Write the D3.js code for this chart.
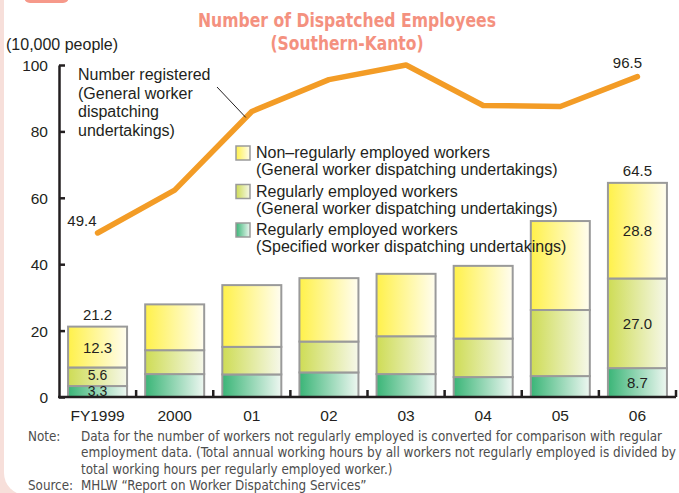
<!DOCTYPE html>
<html>
<head>
<meta charset="utf-8">
<script src="https://cdn.jsdelivr.net/npm/d3@7/dist/d3.min.js"></script>
<style>
  html, body { margin: 0; padding: 0; background: #fff; }
  svg { display: block; }
  .lbl { font-family: "Liberation Sans", Arial, sans-serif; font-size: 15px; fill: #231f20; }
  .txt { font-family: "Liberation Sans", Arial, sans-serif; font-size: 16px; fill: #231f20; }
  .note { font-family: "DejaVu Sans Condensed", "Liberation Sans Narrow", sans-serif; font-stretch: condensed; font-size: 13.3px; fill: #4d4d4d; }
</style>
</head>
<body>
<svg id="chart" width="679" height="493"></svg>
<script>
// ---- data ----
const categories = ["FY1999", "2000", "01", "02", "03", "04", "05", "06"];
const specifiedRegular = [3.3, 6.9, 6.8, 7.4, 6.9, 6.0, 6.3, 8.7];
const generalRegular   = [5.6, 7.2, 8.3, 9.3, 11.4, 11.6, 19.9, 27.0];
const generalNonRegular= [12.3, 13.8, 18.6, 19.1, 18.8, 21.9, 26.8, 28.8];
const registered       = [49.4, 62.3, 86.0, 95.6, 100.0, 87.8, 87.5, 96.5];
const yTicks = [0, 20, 40, 60, 80, 100];
const seriesKeys = ["specified", "regular", "nonregular"];
const legendLabels = [
  ["Non\u2013regularly employed workers", "(General worker dispatching undertakings)"],
  ["Regularly employed workers", "(General worker dispatching undertakings)"],
  ["Regularly employed workers", "(Specified worker dispatching undertakings)"]
];
const barLabelIdx = [0, 7];

// ---- setup ----
const svg = d3.select("#chart");
const W = 679, H = 493;

// background frame
svg.append("rect").attr("width", W).attr("height", H).attr("fill", "#f7dfda");
svg.append("rect").attr("x", 4).attr("y", -30).attr("width", 720).attr("height", 525)
  .attr("rx", 22).attr("fill", "#ffffff");
svg.append("rect").attr("x", 24).attr("y", -12).attr("width", 45).attr("height", 15)
  .attr("rx", 6).attr("fill", "#f6998a");

const defs = svg.append("defs");
const grads = {
  nonregular: ["#fff14a", "#fffdf0"],
  regular: ["#cedc55", "#f6f8ea"],
  specified: ["#3ab577", "#eef7f1"]
};
Object.entries(grads).forEach(([k, [c0, c1]]) => {
  const g = defs.append("linearGradient").attr("id", "g-" + k)
    .attr("x1", "0").attr("x2", "1").attr("y1", "0").attr("y2", "0");
  g.append("stop").attr("offset", "0%").attr("stop-color", c0);
  g.append("stop").attr("offset", "100%").attr("stop-color", c1);
});

const x = d3.scaleBand().domain(categories).range([59, 676]).paddingInner(0.235).paddingOuter(0.1175);
const y = d3.scaleLinear().domain([0, 100]).range([397, 65]);

// title
const titleFont = "'DejaVu Sans Condensed','Liberation Sans Narrow',sans-serif";
svg.append("text").attr("x", 347).attr("y", 27).attr("text-anchor", "middle")
  .attr("textLength", 298).attr("lengthAdjust", "spacingAndGlyphs")
  .style("font-family", titleFont).style("font-weight", "bold").style("font-size", "19px").style("fill", "#f4917f")
  .text("Number of Dispatched Employees");
svg.append("text").attr("x", 347).attr("y", 50).attr("text-anchor", "middle")
  .attr("textLength", 153).attr("lengthAdjust", "spacingAndGlyphs")
  .style("font-family", titleFont).style("font-weight", "bold").style("font-size", "19px").style("fill", "#f4917f")
  .text("(Southern-Kanto)");

// unit label
svg.append("text").attr("class", "txt").attr("x", 6).attr("y", 50).text("(10,000 people)");

// stacked bars
const rows = categories.map((c, i) => ({
  cat: c, specified: specifiedRegular[i], regular: generalRegular[i], nonregular: generalNonRegular[i]
}));
const stacked = d3.stack().keys(seriesKeys)(rows);
const barG = svg.append("g");
stacked.forEach(s => {
  barG.selectAll(null).data(s).enter().append("rect")
    .attr("x", d => x(d.data.cat))
    .attr("y", d => y(d[1]))
    .attr("width", x.bandwidth())
    .attr("height", d => y(d[0]) - y(d[1]))
    .attr("fill", "url(#g-" + s.key + ")")
    .attr("stroke", "#9a9a9a").attr("stroke-width", 2);
});

// bar value labels
const labG = svg.append("g");
barLabelIdx.forEach(i => {
  const cx = x(categories[i]) + x.bandwidth() / 2;
  stacked.forEach(s => {
    const d = s[i];
    const h = y(d[0]) - y(d[1]);
    let by = (y(d[0]) + y(d[1])) / 2 + 5.5;
    let fs = 15;
    if (h < 15) {            // very thin segment: sit on its base
      fs = 14; by = y(d[0]) - 1;
    } else if (h < 25) {     // thin segment: nudge up, smaller text
      fs = 14; by = (y(d[0]) + y(d[1])) / 2 + 3.3;
    }
    labG.append("text").attr("class", "lbl").attr("text-anchor", "middle")
      .style("font-size", fs + "px")
      .attr("x", cx).attr("y", by)
      .text(d3.format(".1f")(d[1] - d[0]));
  });
  const tot = specifiedRegular[i] + generalRegular[i] + generalNonRegular[i];
  labG.append("text").attr("class", "lbl").attr("text-anchor", "middle")
    .attr("x", cx).attr("y", y(tot) - 7).text(d3.format(".1f")(tot));
});

// axes
const yAxis = d3.axisLeft(y).tickValues(yTicks).tickSizeInner(-6).tickSizeOuter(0).tickPadding(11);
const yg = svg.append("g").attr("transform", "translate(59,0)").call(yAxis);
yg.select(".domain").attr("stroke", "#231f20").attr("stroke-width", 2.5);
yg.selectAll(".tick line").attr("stroke", "#231f20").attr("stroke-width", 2.5);
yg.selectAll(".tick text").attr("class", "lbl").style("font-size", "15.5px").attr("dy", "0.36em");

const xAxis = d3.axisBottom(x).tickSize(0).tickPadding(13);
const xg = svg.append("g").attr("transform", "translate(0," + y(0) + ")").call(xAxis);
xg.select(".domain").remove();
xg.selectAll(".tick text").attr("class", "lbl").style("font-size", "15.5px").attr("dy", "0.71em");
svg.append("line").attr("x1", 58).attr("x2", x.range()[1]).attr("y1", y(0)).attr("y2", y(0))
  .attr("stroke", "#231f20").attr("stroke-width", 2.5);
categories.forEach(c => {
  const bx = x(c) + x.bandwidth() / 2 + x.step() / 2;
  svg.append("line").attr("x1", bx).attr("x2", bx).attr("y1", y(0)).attr("y2", y(0) - 7)
    .attr("stroke", "#231f20").attr("stroke-width", 2.5);
});

// line
const lineGen = d3.line()
  .x((d, i) => x(categories[i]) + x.bandwidth() / 2)
  .y(d => y(d));
svg.append("path").datum(registered).attr("d", lineGen)
  .attr("fill", "none").attr("stroke", "#f39c26").attr("stroke-width", 5.5)
  .attr("stroke-linecap", "round").attr("stroke-linejoin", "round");

svg.append("text").attr("class", "lbl").attr("text-anchor", "end")
  .attr("x", x(categories[0]) + x.bandwidth() / 2 - 1).attr("y", y(registered[0]) - 7)
  .text(d3.format(".1f")(registered[0]));
svg.append("text").attr("class", "lbl").attr("text-anchor", "middle")
  .attr("x", x(categories[7]) + x.bandwidth() / 2 - 10).attr("y", y(registered[7]) - 9)
  .text(d3.format(".1f")(registered[7]));

// annotation
const ann = ["Number registered", "(General worker", "dispatching", "undertakings)"];
ann.forEach((t, i) => {
  svg.append("text").attr("class", "txt").attr("x", 78).attr("y", 80 + i * 18.7).text(t);
});
svg.append("line").attr("x1", 217).attr("y1", 87)
  .attr("x2", x(categories[2]) + x.bandwidth() / 2 - 6).attr("y2", y(registered[2]) + 6)
  .attr("stroke", "#231f20").attr("stroke-width", 1);

// legend
const legOrder = ["nonregular", "regular", "specified"];
legOrder.forEach((k, i) => {
  const ly = 146 + i * 38.5;
  svg.append("rect").attr("x", 236).attr("y", ly).attr("width", 14).attr("height", 14)
    .attr("fill", "url(#g-" + k + ")").attr("stroke", "#9a9a9a").attr("stroke-width", 1.5);
  svg.append("text").attr("class", "txt").attr("x", 256).attr("y", ly + 12).text(legendLabels[i][0]);
  svg.append("text").attr("class", "txt").attr("x", 256).attr("y", ly + 29).text(legendLabels[i][1]);
});

// notes
const notes = [
  ["Note:", "Data for the number of workers not regularly employed is converted for comparison with regular", 581],
  ["", "employment data. (Total annual working hours by all workers not regularly employed is divided by", 595],
  ["", "total working hours per regularly employed worker.)", null],
  ["Source:", "MHLW \u201cReport on Worker Dispatching Services\u201d", null]
];
notes.forEach(([h, t, len], i) => {
  const yy = 441 + i * 16.3;
  if (h) svg.append("text").attr("class", "note").attr("x", 28).attr("y", yy).text(h);
  const tx = svg.append("text").attr("class", "note").attr("x", 81).attr("y", yy).text(t);
  if (len) tx.attr("textLength", len).attr("lengthAdjust", "spacingAndGlyphs");
});
</script>
</body>
</html>
